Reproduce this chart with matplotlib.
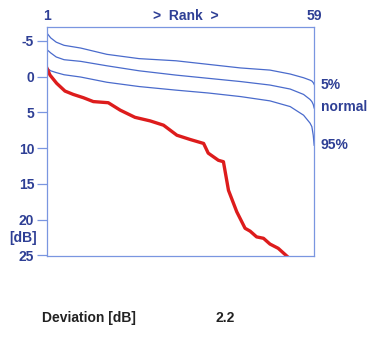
import matplotlib
matplotlib.use("Agg")
import matplotlib.pyplot as plt

# percentile curves (rank, dB)
rank_ref = [1, 1.8, 3, 4.7, 8.3, 14, 21, 29, 36, 43, 49.4, 53.8, 56.7, 58.1, 58.5, 58.8, 59]
p5 = [-6.05, -5.4, -4.8, -4.36, -3.98, -3.1, -2.5, -2.2, -1.7, -1.2, -0.9, -0.35, 0.17, 0.5, 0.63, 0.85, 1.1]
normal = [-3.75, -3.3, -2.73, -2.35, -2.12, -1.5, -0.8, -0.2, 0.25, 0.7, 1.19, 1.75, 2.5, 3.2, 3.5, 3.9, 4.4]
p95 = [-1.19, -0.8, -0.55, -0.25, 0.07, 0.8, 1.4, 1.9, 2.3, 2.8, 3.4, 4.2, 5.4, 6.5, 7.0, 8.2, 9.6]

# measured curve
rank_m = [1, 1.65, 3.1, 4.9, 6.7, 8.9, 11.05, 14.3, 16.9, 20.1, 23.4, 26.3, 29.2,
          32.1, 35.0, 36.0, 38.2, 39.3, 40.4, 42.2, 44.0, 45.1, 46.5, 48.0,
          49.4, 51.2, 53.1]
meas = [-1.15, -0.2, 0.95, 2.03, 2.5, 2.96, 3.5, 3.66, 4.7, 5.7, 6.2, 6.8, 8.2,
        8.8, 9.35, 10.7, 11.7, 11.9, 15.9, 18.9, 21.2, 21.6, 22.4, 22.6,
        23.4, 24.0, 25.1]

yticks_v = [-5, 0, 5, 10, 15, 20, 25]
deviation = "2.2"

txt = "#2e3f95"
frame = "#7a96e0"
blue = "#4a6bcc"
red = "#dd1c1c"
plt.rcParams['font.family'] = ['Liberation Sans', 'DejaVu Sans']
fs = 10

fig = plt.figure(figsize=(3.77, 3.37), dpi=100)
ax = fig.add_axes([0.1247, 0.2404, 0.7086, 0.6795])

ax.plot(rank_ref, p5, color=blue, lw=0.9)
ax.plot(rank_ref, normal, color=blue, lw=0.9)
ax.plot(rank_ref, p95, color=blue, lw=0.9)
ax.plot(rank_m, meas, color=red, lw=2.4, solid_joinstyle='round')

ax.set_xlim(1, 59)
ax.set_ylim(25.07, -6.92)
ax.set_xticks([])
ax.set_yticks(yticks_v)
ax.set_yticklabels([str(v) for v in yticks_v], fontsize=fs, fontweight='bold', color=txt)
ax.tick_params(axis='y', length=7.2, width=0.9, color=frame, pad=2)
for s in ax.spines.values():
    s.set_color(frame)
    s.set_linewidth(0.9)

yt = ax.get_yaxis_transform()
xt = ax.get_xaxis_transform()
ax.text(1, 1.05, "1", transform=xt, ha='center', va='center', fontsize=fs, fontweight='bold', color=txt)
ax.text(59, 1.05, "59", transform=xt, ha='center', va='center', fontsize=fs, fontweight='bold', color=txt)
ax.text(0.52, 1.05, ">  Rank  >", transform=ax.transAxes, ha='center', va='center', fontsize=fs, fontweight='bold', color=txt)

ax.text(1.025, 1.2, "5%", transform=yt, ha='left', va='center', fontsize=fs, fontweight='bold', color=txt)
ax.text(1.025, 4.3, "normal", transform=yt, ha='left', va='center', fontsize=fs, fontweight='bold', color=txt)
ax.text(1.025, 9.6, "95%", transform=yt, ha='left', va='center', fontsize=fs, fontweight='bold', color=txt)

fig.text(23.5 / 377, 1 - 238 / 337, "[dB]", ha='center', va='center', fontsize=fs, fontweight='bold', color=txt)
fig.text(42 / 377, 1 - 318 / 337, "Deviation [dB]", ha='left', va='center', fontsize=fs, fontweight='bold', color="#222222")
fig.text(225 / 377, 1 - 318 / 337, deviation, ha='center', va='center', fontsize=fs, fontweight='bold', color="#222222")

plt.savefig("out.png", dpi=100)
